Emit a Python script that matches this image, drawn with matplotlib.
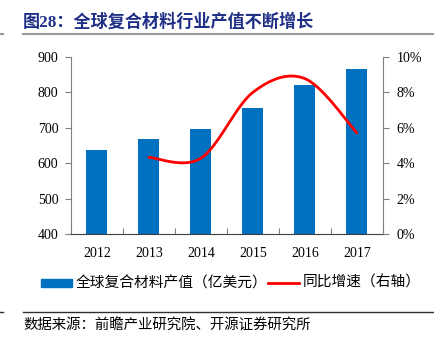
import numpy as np
import matplotlib
matplotlib.use("Agg")
import matplotlib.pyplot as plt
from matplotlib.lines import Line2D
from matplotlib.patches import Rectangle
from matplotlib.ticker import FuncFormatter, FixedLocator

years = ["2012", "2013", "2014", "2015", "2016", "2017"]
output_value = [638, 668, 697, 755, 820, 866]          # 亿美元
growth_years = ["2013", "2014", "2015", "2016", "2017"]
growth_rate = [4.33, 4.28, 8.00, 8.78, 5.72]            # %

FAM = ["Liberation Serif", "Noto Sans CJK SC", "DejaVu Sans"]
plt.rcParams["font.family"] = FAM

BLUE = "#0070C0"
RED = "#FF0000"
NAVY = "#1F2F86"

fig = plt.figure(figsize=(4.35, 3.49), dpi=100)
ax = fig.add_axes([0.163, 0.3295, 0.717, 0.5072])

x = np.arange(len(years))
ax.bar(x, output_value, width=0.4, color=BLUE, zorder=2)
ax.set_xlim(-0.5, len(years) - 0.5)
ax.set_ylim(400, 900)
ax.set_yticks(range(400, 901, 100))
ax.set_xticks(x)
ax.set_xticklabels(years, fontsize=10)
ax.tick_params(axis="x", which="major", length=0, pad=9)
ax.xaxis.set_minor_locator(FixedLocator(np.arange(-0.5, len(years), 1.0)))
ax.tick_params(axis="x", which="minor", direction="in", length=4, width=0.8, color="#808080")
ax.tick_params(axis="y", length=4, width=0.8, color="#808080", labelsize=10, pad=5)
for s in ["top", "right"]:
    ax.spines[s].set_visible(False)
ax.spines["left"].set_color("#808080")
ax.spines["bottom"].set_color("#404040")
for lab in ax.get_yticklabels() + ax.get_xticklabels():
    lab.set_family(FAM)

ax2 = ax.twinx()
ax2.set_ylim(0, 10)
ax2.set_yticks(range(0, 11, 2))
ax2.yaxis.set_major_formatter(FuncFormatter(lambda v, p: f"{int(v)}%"))
ax2.tick_params(axis="y", length=4, width=0.8, color="#808080", labelsize=10, pad=6)
for s in ["top", "left", "bottom"]:
    ax2.spines[s].set_visible(False)
ax2.spines["right"].set_color("#808080")
for lab in ax2.get_yticklabels():
    lab.set_family(FAM)

# smoothed line (Catmull-Rom style Bezier, like spreadsheet "smoothed line")
gx = np.array([years.index(g) for g in growth_years], dtype=float)
gy = np.array(growth_rate, dtype=float)
n = len(gx)
px = np.concatenate([[gx[0]], gx, [gx[-1]]])
py = np.concatenate([[gy[0]], gy, [gy[-1]]])
cx, cy = [], []
t = np.linspace(0, 1, 40)
for i in range(n - 1):
    p0 = np.array([px[i + 1], py[i + 1]])
    p3 = np.array([px[i + 2], py[i + 2]])
    c1 = p0 + (np.array([px[i + 2], py[i + 2]]) - np.array([px[i], py[i]])) / 6
    c2 = p3 - (np.array([px[i + 3], py[i + 3]]) - np.array([px[i + 1], py[i + 1]])) / 6
    b = ((1 - t) ** 3)[:, None] * p0 + (3 * (1 - t) ** 2 * t)[:, None] * c1 \
        + (3 * (1 - t) * t ** 2)[:, None] * c2 + (t ** 3)[:, None] * p3
    cx.extend(b[:, 0]); cy.extend(b[:, 1])
ax2.plot(cx, cy, color=RED, lw=2.0, solid_capstyle="round", zorder=3)

# title
fig.text(0.053, 0.937, "图28：全球复合材料行业产值不断增长", fontsize=12.3, fontweight="bold",
         color=NAVY, ha="left", va="center", family=FAM)
fig.add_artist(Line2D([0.053, 1.0], [0.903, 0.903], color="#9a9a9a", lw=1.5))
fig.add_artist(Line2D([0.0, 0.008], [0.903, 0.903], color="#9a9a9a", lw=1.5))

# legend
ly = 1 - 283 / 349
fig.add_artist(Rectangle((41 / 435, ly - 0.011), 31 / 435, 0.022, color=BLUE, transform=fig.transFigure))
fig.text(76 / 435, ly, "全球复合材料产值（亿美元）", fontsize=10.6, ha="left", va="center", family=FAM)
fig.add_artist(Line2D([268 / 435, 299 / 435], [ly, ly], color=RED, lw=2.0))
fig.text(303 / 435, ly, "同比增速（右轴）", fontsize=10.6, ha="left", va="center", family=FAM)

# source
fig.add_artist(Line2D([0.053, 1.0], [1 - 312 / 349] * 2, color="#303030", lw=1.0))
fig.add_artist(Line2D([0.0, 0.008], [1 - 312 / 349] * 2, color="#303030", lw=1.0))
fig.text(0.053, 1 - 326 / 349, "数据来源：前瞻产业研究院、开源证券研究所", fontsize=10.4,
         ha="left", va="center", family=FAM)

fig.savefig("out.png", dpi=100)
